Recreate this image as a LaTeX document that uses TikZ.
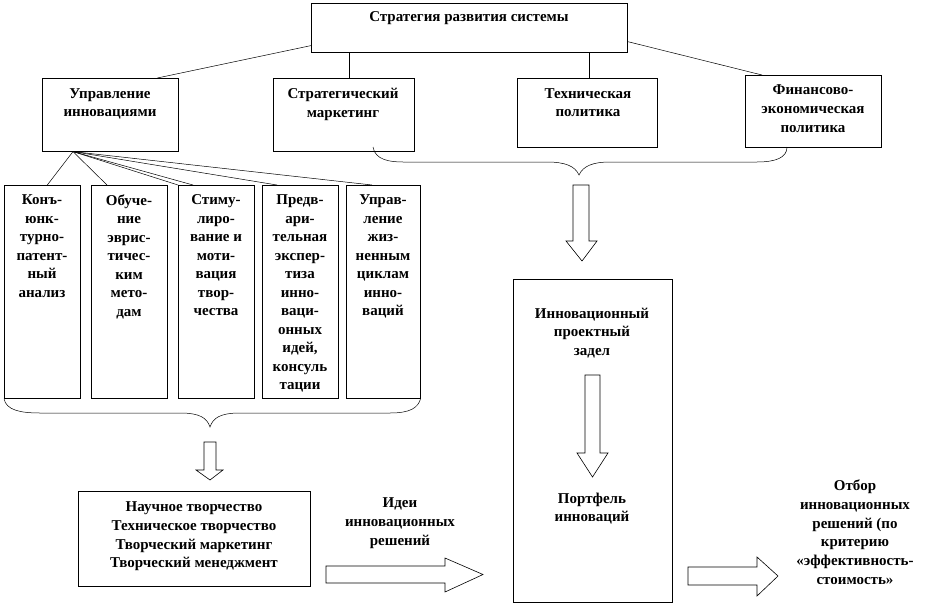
\documentclass[tikz,border=0pt]{standalone}
\usepackage{fontspec}
\setmainfont{Liberation Serif}
\begin{document}
\begin{tikzpicture}[x=1pt,y=-1pt,
  box/.style={draw=black, line width=0.6pt, fill=white, inner sep=0pt, anchor=north west},
  lbl/.style={font=\bfseries\fontsize{15}{18.8}\selectfont, align=center, inner sep=0pt, anchor=north},
  clbl/.style={lbl, font=\bfseries\fontsize{15}{18.5}\selectfont},
  conn/.style={draw=black, line width=0.5pt},
  blk/.style={draw=black, line width=0.6pt, fill=white, line join=miter}]
\useasboundingbox (0,0) rectangle (925,605);
% boxes
\node[box, minimum width=316pt, minimum height=49pt] (top) at (311,3) {};
\node[box, minimum width=136pt, minimum height=73pt] (upr) at (42,78) {};
\node[box, minimum width=141pt, minimum height=73pt] (strat) at (273,78) {};
\node[box, minimum width=140pt, minimum height=69pt] (tekh) at (517,78) {};
\node[box, minimum width=136pt, minimum height=72pt] (fin) at (745,75) {};
\node[box, minimum width=76pt, minimum height=213pt] (c1) at (4,185) {};
\node[box, minimum width=76pt, minimum height=213pt] (c2) at (91,185) {};
\node[box, minimum width=76pt, minimum height=213pt] (c3) at (178,185) {};
\node[box, minimum width=76pt, minimum height=213pt] (c4) at (262,185) {};
\node[box, minimum width=74pt, minimum height=213pt] (c5) at (346,185) {};
\node[box, minimum width=232pt, minimum height=95pt] (nauch) at (78,491) {};
\node[box, minimum width=159pt, minimum height=323pt] (big) at (513,279) {};
% texts
\node[lbl] (ttop) at (469,11.5) {Стратегия развития системы};
\node[lbl] (tupr) at (110,88) {Управление\\инновациями};
\node[lbl] (tstrat) at (343,88) {Стратегический\\маркетинг};
\node[lbl] (ttekh) at (588,88) {Техническая\\политика};
\node[lbl] (tfin) at (813,84.5) {Финансово-\\экономическая\\политика};
\node[clbl] (tc1) at (42,194.5) {Конъ-\\юнк-\\турно-\\патент-\\ный\\анализ};
\node[clbl] (tc2) at (129,194.5) {Обуче-\\ние\\эврис-\\тичес-\\ким\\мето-\\дам};
\node[clbl] (tc3) at (216,194.5) {Стиму-\\лиро-\\вание и\\моти-\\вация\\твор-\\чества};
\node[clbl] (tc4) at (300,194.5) {Предв-\\ари-\\тельная\\экспер-\\тиза\\инно-\\ваци-\\онных\\идей,\\консуль\\тации};
\node[clbl] (tc5) at (383,194.5) {Управ-\\ление\\жиз-\\ненным\\циклам\\инно-\\ваций};
\node[lbl] (tnauch) at (194,501.5) {Научное творчество\\Техническое творчество\\Творческий маркетинг\\Творческий менеджмент};
\node[lbl] (tidei) at (400,497.5) {Идеи\\инновационных\\решений};
\node[lbl] (tbig) at (592,307.5) {Инновационный\\проектный\\задел};
\node[lbl] (tport) at (592,492.5) {Портфель\\инноваций};
\node[lbl] (totbor) at (855,479.5) {Отбор\\инновационных\\решений (по\\критерию\\«эффективность-\\стоимость»};
% connectors from top
\draw[conn] ([yshift=7pt]top.south west) -- ([xshift=47pt]upr.north);
\draw[conn] ([xshift=5.5pt]strat.north |- top.south) -- ([xshift=5.5pt]strat.north);
\draw[conn] ([xshift=2pt]tekh.north |- top.south) -- ([xshift=2pt]tekh.north);
\draw[conn] ([yshift=11pt]top.south east) -- ([xshift=17pt]fin.north west);
% fan
\coordinate (fo) at ([xshift=31pt]upr.south west);
\draw[conn] (fo) -- ([xshift=5pt]c1.north);
\draw[conn] (fo) -- ([xshift=16pt]c2.north west);
\draw[conn] (fo) -- (c3.north west);
\draw[conn] (fo) -- ([xshift=15pt]c3.north west);
\draw[conn] (fo) -- ([xshift=15pt]c4.north west);
\draw[conn] (fo) -- ([xshift=26pt]c5.north west);
% braces
\draw[conn] (373,147) .. controls (375,160) and (390,162) .. (403,162) -- (547,162)
  .. controls (565,162) and (575,166) .. (579,175)
  .. controls (583,166) and (593,162) .. (610,162) -- (757,162)
  .. controls (775,162) and (787,158) .. (787,147);
\draw[conn] (c1.south west) .. controls (6,410) and (20,413) .. (40,413) -- (180,413)
  .. controls (200,413) and (207,418) .. (210,427)
  .. controls (213,418) and (220,413) .. (240,413) -- (390,413)
  .. controls (410,413) and (418,408) .. (c5.south east);
% block arrows
\draw[blk] (204,442) -- (216,442) -- (216,470) -- (223,470) -- (210,480) -- (196,470) -- (204,470) -- cycle;
\draw[blk] (573,185) -- (589,185) -- (589,241) -- (597,241) -- (582,261) -- (566,241) -- (573,241) -- cycle;
\draw[blk] (585,375) -- (600,375) -- (600,453) -- (608,453) -- (592.5,477) -- (577,453) -- (585,453) -- cycle;
\draw[blk] (326,566) -- (445,566) -- (445,558) -- (483,574.5) -- (445,592) -- (445,583) -- (326,583) -- cycle;
\draw[blk] (688,567) -- (757,567) -- (757,557) -- (778,576) -- (757,596) -- (757,585) -- (688,585) -- cycle;
\end{tikzpicture}
\end{document}
